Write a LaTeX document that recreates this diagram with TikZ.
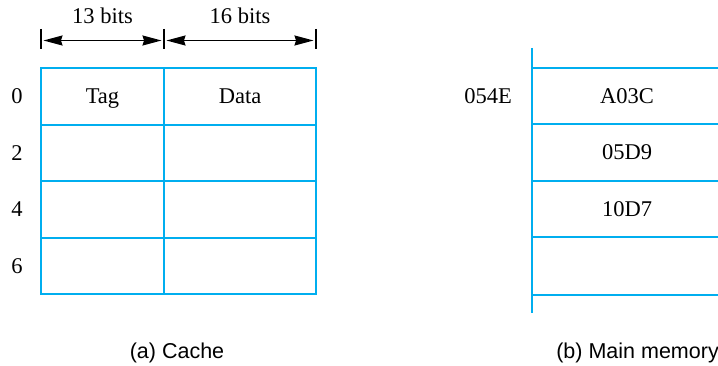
\documentclass[tikz,border=0pt]{standalone}
\usepackage{fontspec}
\setmainfont{Liberation Serif}
\newfontfamily\capfont{Liberation Sans}
\usetikzlibrary{arrows.meta}
\definecolor{cblue}{RGB}{0,174,239}
\begin{document}
\begin{tikzpicture}[x=1pt,y=-1pt,
  every node/.style={font=\fontsize{22.5}{26}\selectfont, inner sep=0pt},
  lbl/.style={text height=15pt, text depth=0pt},
  tagcell/.style={lbl, draw=cblue, line width=2pt, minimum width=123pt},
  datacell/.style={lbl, draw=cblue, line width=2pt, minimum width=152pt},
  memcell/.style={lbl, minimum width=190pt},
  memline/.style={draw=cblue, line width=2pt},
  tick/.style={draw=black, line width=1.7pt},
  dimarrow/.style={draw=black, line width=1.4pt, {Stealth[length=19pt,width=10pt,inset=1.5pt]}-{Stealth[length=19pt,width=10pt,inset=1.5pt]}, shorten <=2.5pt, shorten >=2.5pt},
  caption/.style={font=\capfont\fontsize{21.5}{25}\selectfont, anchor=base}
]
\useasboundingbox (0,0) rectangle (718,366);

% cache cells
\foreach \i/\y/\h in {0/96.5/57,1/153/56,2/209.5/57,3/266/56}{
  \node[tagcell, minimum height=\h pt] (tag\i) at (102.5,\y) {};
  \node[datacell, minimum height=\h pt] (data\i) at (240,\y) {};
}
\node[lbl] at (tag0) {Tag};
\node[lbl] at (data0) {Data};

% row labels
\node[lbl] (r0) at (17,96.5) {0};
\node[lbl] (r2) at (17,153) {2};
\node[lbl] (r4) at (17,209.5) {4};
\node[lbl] (r6) at (17,266) {6};

% dimension ticks and arrows
\coordinate (ta) at (41,29); \coordinate (tab) at (41,49);
\coordinate (tb) at (164,29); \coordinate (tbb) at (164,49);
\coordinate (tc) at (316,29); \coordinate (tcb) at (316,49);
\draw[tick] (ta) -- (tab);
\draw[tick] (tb) -- (tbb);
\draw[tick] (tc) -- (tcb);
\coordinate (aa) at (41,40.5);
\coordinate (ab) at (164,40.5);
\coordinate (ac) at (316,40.5);
\draw[dimarrow] (aa) -- (ab);
\draw[dimarrow] (ab) -- (ac);
\node[anchor=base] (b13) at (102.5,24) {13 bits};
\node[anchor=base] (b16) at (240,24) {16 bits};

% main memory
\node[memcell, minimum height=56pt] (m0) at (627,96) {A03C};
\node[memcell, minimum height=57pt] (m1) at (627,152.5) {05D9};
\node[memcell, minimum height=56pt] (m2) at (627,209) {10D7};
\node[memcell, minimum height=58pt] (m3) at (627,266) {};
\coordinate (mtop) at (532,48);
\coordinate (mbot) at (532,313);
\draw[memline] (mtop) -- (mbot);
\foreach \i in {0,1,2,3}{
  \draw[memline] (m\i.north west) -- (m\i.north east);
}
\draw[memline] (m3.south west) -- (m3.south east);
\node[lbl] (addr) at (488,96.5) {054E};

% captions
\node[caption] (capa) at (177,358) {(a) Cache};
\node[caption, anchor=base east] (capb) at (719,358) {(b) Main memory};
\end{tikzpicture}
\end{document}
